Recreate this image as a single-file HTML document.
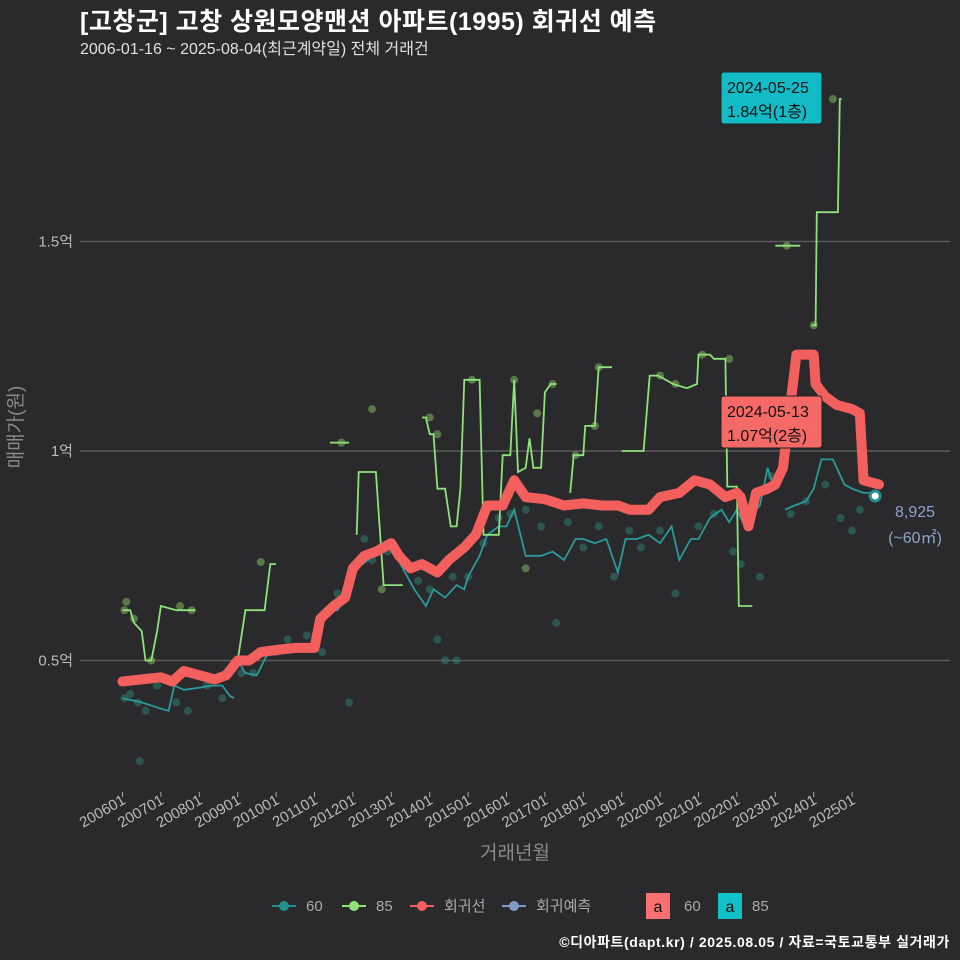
<!DOCTYPE html>
<html><head><meta charset="utf-8">
<style>
body{margin:0;background:#2a2a2c;}
svg{display:block;font-family:"Liberation Sans","Noto Sans CJK KR",sans-serif;}
</style></head>
<body>
<svg id="chart" width="960" height="960" viewBox="0 0 960 960" xmlns="http://www.w3.org/2000/svg">
<rect x="0" y="0" width="960" height="960" fill="#2a2a2c"/>
<text x="80" y="30" fill="#ffffff" font-size="25" font-weight="bold" letter-spacing="0.5">[고창군] 고창 상원모양맨션 아파트(1995) 회귀선 예측</text>
<text x="80" y="54" fill="#e0e0e0" font-size="16">2006-01-16 ~ 2025-08-04(최근계약일) 전체 거래건</text>
<g id="grid"></g>
<g id="yaxis"></g>
<g id="xaxis"></g>
<g id="marks"></g>
<text transform="translate(22,427) rotate(-90)" text-anchor="middle" fill="#8a8a8a" font-size="19">매매가(원)</text>
<text x="515" y="859" text-anchor="middle" fill="#8a8a8a" font-size="19">거래년월</text>
<g font-size="15" fill="#aaaaaa">
  <g>
    <line x1="272" y1="906" x2="296" y2="906" stroke="#21908c" stroke-width="2"/><circle cx="284" cy="906" r="5" fill="#21908c"/>
    <text x="306" y="911" fill="#aaa">60</text></g>
  <g>
    <line x1="342" y1="906" x2="366" y2="906" stroke="#8ee27a" stroke-width="2"/><circle cx="354" cy="906" r="5" fill="#8ee27a"/>
    <text x="376" y="911" fill="#aaa">85</text></g>
  <g>
    <line x1="410" y1="906" x2="434" y2="906" stroke="#f25f5c" stroke-width="2"/><circle cx="422" cy="906" r="5" fill="#f25f5c"/>
    <text x="444" y="911" fill="#aaa">회귀선</text></g>
  <g>
    <line x1="502" y1="906" x2="526" y2="906" stroke="#7f9cc8" stroke-width="2"/><circle cx="514" cy="906" r="5" fill="#7f9cc8"/>
    <text x="536" y="911" fill="#aaa">회귀예측</text></g>
  <g>
    <rect x="646" y="893" width="24" height="26" fill="#f87070"/><text x="658" y="912" text-anchor="middle" fill="#111" font-size="16">a</text>
    <text x="684" y="911" fill="#aaa">60</text></g>
  <g>
    <rect x="718" y="893" width="24" height="26" fill="#12c0c8"/><text x="730" y="912" text-anchor="middle" fill="#111" font-size="16">a</text>
    <text x="752" y="911" fill="#aaa">85</text></g>
</g>
<text x="950" y="947" text-anchor="end" fill="#ffffff" font-size="14" font-weight="bold" letter-spacing="0.6">©디아파트(dapt.kr) / 2025.08.05 / 자료=국토교통부 실거래가</text>
</svg>
<script>
const yTicks=[0.5,1.0,1.5];
const yTickLabels=["0.5억","1억","1.5억"];
const xTickYears=[2006,2007,2008,2009,2010,2011,2012,2013,2014,2015,2016,2017,2018,2019,2020,2021,2022,2023,2024,2025];
const xTickLabels=["200601","200701","200801","200901","201001","201101","201201","201301","201401","201501","201601","201701","201801","201901","202001","202101","202201","202301","202401","202501"];
const regT=[2006.0,2006.5,2007.0,2007.3,2007.6,2008.0,2008.4,2008.7,2009.0,2009.3,2009.6,2010.0,2010.5,2011.0,2011.15,2011.5,2011.8,2012.0,2012.3,2012.6,2013.0,2013.2,2013.5,2013.8,2014.2,2014.5,2014.9,2015.2,2015.5,2015.9,2016.2,2016.5,2017.0,2017.5,2018.0,2018.5,2018.9,2019.2,2019.7,2020.0,2020.5,2020.9,2021.3,2021.7,2022.0,2022.1,2022.3,2022.5,2022.8,2023.0,2023.2,2023.55,2024.0,2024.05,2024.3,2024.6,2025.0,2025.2,2025.3,2025.7];
const regV=[0.45,0.455,0.46,0.45,0.475,0.465,0.455,0.465,0.50,0.50,0.52,0.525,0.53,0.53,0.60,0.63,0.65,0.72,0.75,0.76,0.78,0.75,0.72,0.73,0.71,0.74,0.77,0.80,0.87,0.87,0.93,0.89,0.885,0.87,0.875,0.87,0.87,0.86,0.86,0.89,0.90,0.93,0.92,0.89,0.90,0.89,0.82,0.90,0.91,0.92,0.96,1.23,1.23,1.16,1.13,1.11,1.10,1.09,0.93,0.92];
const s60T=[[2006.0,2006.5,2007.0,2007.2,2007.35,2007.6,2008.0,2008.3,2008.6,2008.8,2008.9],
 [2009.0,2009.2,2009.5,2009.8,2010.0,2010.3,2010.6,2011.0,2011.3,2011.6,2011.9,2012.1,2012.4,2012.6,2013.0,2013.3,2013.6,2013.9,2014.1,2014.4,2014.7,2014.9,2015.0,2015.3,2015.5,2015.8,2016.0,2016.2,2016.5,2016.9,2017.2,2017.5,2017.8,2018.0,2018.3,2018.6,2018.9,2019.1,2019.4,2019.7,2020.0,2020.3,2020.5,2020.8,2021.0,2021.3,2021.6,2021.8,2022.0,2022.2,2022.4,2022.6,2022.8,2022.9,2023.0],
 [2023.25,2023.5,2023.8,2024.0,2024.2,2024.5,2024.8,2025.0,2025.3,2025.5,2025.6]];
const s60V=[[0.41,0.40,0.385,0.38,0.44,0.43,0.435,0.44,0.44,0.415,0.41],
 [0.50,0.47,0.465,0.52,0.52,0.52,0.53,0.53,0.62,0.62,0.66,0.72,0.74,0.76,0.77,0.72,0.67,0.63,0.67,0.65,0.68,0.67,0.70,0.75,0.80,0.82,0.82,0.86,0.75,0.75,0.76,0.74,0.79,0.79,0.78,0.79,0.71,0.79,0.79,0.80,0.78,0.82,0.74,0.79,0.79,0.84,0.86,0.83,0.86,0.82,0.85,0.87,0.96,0.93,0.93],
 [0.86,0.87,0.88,0.91,0.98,0.98,0.92,0.91,0.90,0.90,0.895]];
const s85T=[[2006.0,2006.2,2006.3,2006.5,2006.6,2006.75,2006.9,2007.0,2007.4,2007.9],
 [2009.0,2009.2,2009.7,2009.85,2010.0],[2011.4,2011.9],
 [2012.1,2012.15,2012.6,2012.8,2013.3],
 [2013.8,2013.9,2014.0,2014.1,2014.2,2014.4,2014.55,2014.7,2014.8,2014.9,2015.3,2015.4,2015.8,2015.9,2016.1,2016.2,2016.3,2016.5,2016.6,2016.7,2016.9,2017.0,2017.15,2017.3],
 [2017.66,2017.75,2018.0,2018.05,2018.3,2018.4,2018.75],
 [2019.0,2019.57,2019.73,2019.95,2020.34,2020.7,2020.96,2021.0,2021.3,2021.4,2021.7,2021.75,2022.0,2022.05,2022.4],
 [2023.0,2023.65],[2023.95,2024.05,2024.08,2024.63,2024.68,2024.73]];
const s85V=[[0.62,0.62,0.59,0.57,0.50,0.50,0.57,0.63,0.62,0.62],
 [0.50,0.62,0.62,0.73,0.73],[1.02,1.02],
 [0.80,0.95,0.95,0.68,0.68],
 [1.08,1.08,1.04,1.04,0.91,0.91,0.82,0.82,0.91,1.17,1.17,0.80,0.80,0.99,0.99,1.17,0.95,0.96,1.03,0.96,0.96,1.14,1.16,1.16],
 [0.90,0.99,0.99,1.06,1.06,1.20,1.20],
 [1.00,1.00,1.18,1.18,1.16,1.15,1.16,1.23,1.23,1.22,1.22,0.915,0.915,0.63,0.63],
 [1.49,1.49],[1.30,1.30,1.57,1.57,1.84,1.84]];
const pts60T=[2006.05,2006.2,2006.4,2006.6,2006.9,2007.4,2007.7,2008.2,2008.6,2009.1,2009.4,2010.0,2010.3,2010.8,2011.2,2011.6,2012.0,2012.3,2012.5,2012.9,2013.3,2013.7,2014.0,2014.2,2014.4,2014.7,2015.0,2015.4,2015.8,2016.1,2016.5,2016.9,2017.1,2017.3,2017.6,2018.0,2018.4,2018.8,2019.2,2019.5,2020.0,2020.4,2021.0,2021.4,2021.9,2022.1,2022.6,2022.9,2023.4,2023.8,2024.3,2024.7,2025.0,2025.2,2006.45,2011.9,2014.6];
const pts60V=[0.41,0.42,0.40,0.38,0.44,0.40,0.38,0.44,0.41,0.47,0.47,0.52,0.55,0.56,0.52,0.66,0.72,0.79,0.74,0.76,0.74,0.69,0.67,0.55,0.50,0.50,0.70,0.78,0.84,0.85,0.86,0.82,0.88,0.59,0.83,0.77,0.82,0.70,0.81,0.77,0.81,0.66,0.82,0.85,0.76,0.73,0.70,0.94,0.85,0.88,0.92,0.84,0.81,0.86,0.26,0.40,0.70];
const pts85T=[2006.05,2006.1,2006.3,2006.75,2007.5,2007.8,2009.6,2011.7,2012.5,2012.75,2014.0,2014.2,2015.1,2016.2,2016.5,2016.8,2017.2,2017.8,2018.3,2018.4,2020.0,2020.4,2021.1,2021.8,2023.3,2024.0,2024.5];
const pts85V=[0.62,0.64,0.60,0.50,0.63,0.62,0.735,1.02,1.10,0.67,1.08,1.04,1.17,1.17,0.72,1.09,1.16,0.99,1.06,1.20,1.18,1.16,1.23,1.22,1.49,1.30,1.84];
const lastPoint=[2025.6,0.8925];

const NS="http://www.w3.org/2000/svg";
const X=t=>122.5+(t-2006)*38.4;
const Y=v=>660.5-(v-0.5)*419;
function mk(tag,attrs,parent){const e=document.createElementNS(NS,tag);for(const k in attrs)e.setAttribute(k,attrs[k]);parent.appendChild(e);return e;}
const grid=document.getElementById('grid'),ya=document.getElementById('yaxis'),xa=document.getElementById('xaxis'),marks=document.getElementById('marks');
yTicks.forEach((v,i)=>{
  const l=mk('line',{x1:80,x2:950,y1:Y(v),y2:Y(v),stroke:'#5a5a5a','stroke-width':1.5},grid);
  
  
  const t=mk('text',{x:73,y:Y(v)+5,'text-anchor':'end',fill:'#bbbbbb','font-size':15},ya);
  
  
  t.textContent=yTickLabels[i];
});
xTickYears.forEach((yr,i)=>{
  const x=X(yr);
  const l=mk('line',{x1:x,x2:x,y1:792,y2:797,stroke:'#aaa','stroke-width':1},xa);
  
  
  const t=mk('text',{transform:`translate(${x+4},${803}) rotate(-30)`,'text-anchor':'end',fill:'#bbbbbb','font-size':15},xa);
  
  
  t.textContent=xTickLabels[i];
});
function path(T,V){return T.map((t,i)=>(i?'L':'M')+X(t).toFixed(1)+','+Y(V[i]).toFixed(1)).join(' ');}
pts60T.forEach((t,i)=>{const c=mk('circle',{cx:X(t),cy:Y(pts60V[i]),r:4,fill:'#2f8f7f','fill-opacity':0.45},marks);
  
  });
pts85T.forEach((t,i)=>{const c=mk('circle',{cx:X(t),cy:Y(pts85V[i]),r:4,fill:'#7fb860','fill-opacity':0.55},marks);
  
  });
s60T.forEach((T,k)=>{const p=mk('path',{d:path(T,s60V[k]),fill:'none',stroke:'#2a9a9a','stroke-width':1.8},marks);
  
  });
s85T.forEach((T,k)=>{const p=mk('path',{d:path(T,s85V[k]),fill:'none',stroke:'#8ee27a','stroke-width':1.8},marks);
  
  });
const rp=mk('path',{d:path(regT,regV),fill:'none',stroke:'#f25f5c','stroke-width':10,'stroke-linejoin':'round','stroke-linecap':'round'},marks);


const lp=mk('circle',{cx:X(lastPoint[0]),cy:Y(lastPoint[1]),r:5,fill:'#fff',stroke:'#21908c','stroke-width':3},marks);


function label(x,y,bg,l1,l2,name){
  const g=mk('g',{},marks);
  
  
  mk('rect',{x:x,y:y,width:101,height:52,rx:3,fill:bg,stroke:'#222','stroke-width':1},g);
  const a=mk('text',{x:x+6,y:y+21,fill:'#111','font-size':16},g);a.textContent=l1;
  const b=mk('text',{x:x+6,y:y+45,fill:'#111','font-size':16},g);b.textContent=l2;
}
label(721,72,'#12bcc6','2024-05-25','1.84억(1층)','max-label-85');
label(721,396,'#f56a66','2024-05-13','1.07억(2층)','max-label-60');
const t1=mk('text',{x:915,y:517,'text-anchor':'middle',fill:'#8fa3c8','font-size':16},marks);


t1.textContent='8,925';
const t2=mk('text',{x:915,y:543,'text-anchor':'middle',fill:'#8fa3c8','font-size':16},marks);


t2.textContent='(~60㎡)';
</script>
</body></html>
